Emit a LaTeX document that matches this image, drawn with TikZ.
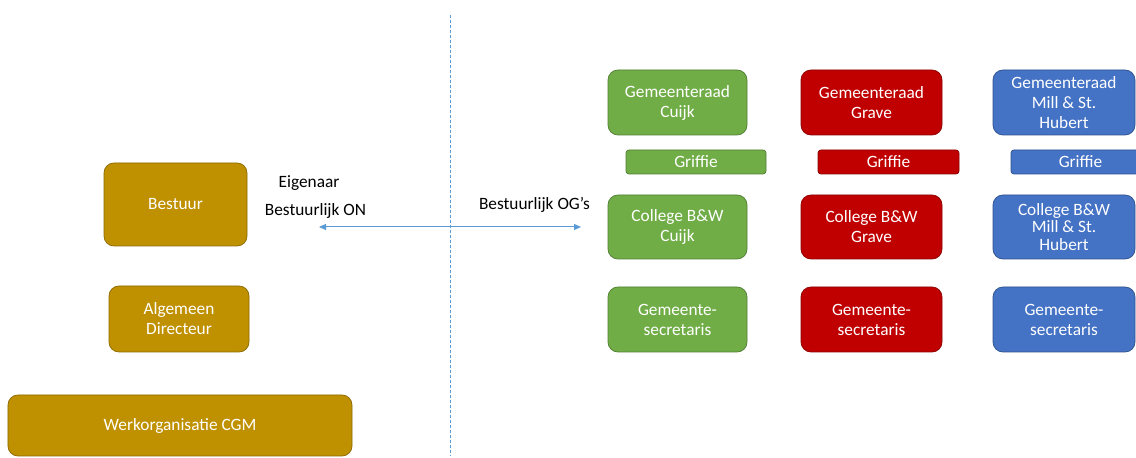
\documentclass[tikz,border=0pt]{standalone}
\usepackage{fontspec}
\setmainfont{Carlito}
\usetikzlibrary{arrows.meta}
\definecolor{gold}{HTML}{BF9000}
\definecolor{goldd}{HTML}{8C6A00}
\definecolor{grn}{HTML}{70AD47}
\definecolor{grnd}{HTML}{507E32}
\definecolor{rd}{HTML}{C00000}
\definecolor{rdd}{HTML}{8C0000}
\definecolor{bl}{HTML}{4472C4}
\definecolor{bld}{HTML}{2F528F}
\definecolor{conn}{HTML}{5B9BD5}
\tikzset{
  box/.style={rounded corners=10bp, line width=0.75bp, text=white, align=center, inner sep=0pt,
    font=\fontsize{17.3bp}{20bp}\selectfont},
  gbox/.style={box, fill=gold, draw=goldd},
  grbox/.style={box, fill=grn, draw=grnd},
  rbox/.style={box, fill=rd, draw=rdd},
  bbox/.style={box, fill=bl, draw=bld},
  smallr/.style={rounded corners=3bp},
  lbl/.style={text=black, inner sep=0pt, font=\fontsize{17.3bp}{20bp}\selectfont},
}
\begin{document}
\begin{tikzpicture}[x=1bp,y=-1bp]
\useasboundingbox (0,0) rectangle (1136,458);
\clip (0,0) rectangle (1136,458);
\fill[white] (0,0) rectangle (1136,458);
% divider
\coordinate (dtop) at (450,15);
\coordinate (dbot) at (450,456);
\draw[conn, line width=0.75bp, dash pattern=on 3bp off 2bp] (dtop) -- (dbot);
% left side
\node[gbox, minimum width=143bp, minimum height=83bp] (bestuur) at (175.5,204.5) {Bestuur};
\node[gbox, minimum width=140bp, minimum height=66bp] (ad) at (179,319) {Algemeen\\Directeur};
\node[gbox, minimum width=344bp, minimum height=61bp] (werk) at (180,425.5) {Werkorganisatie CGM};
% labels
\node[lbl] (eig) at (309,183) {Eigenaar};
\node[lbl] (bon) at (315.5,211) {Bestuurlijk ON};
\node[lbl] (bog) at (534.5,205) {Bestuurlijk OG’s};
% arrow
\coordinate (al) at (319,227);
\coordinate (ar) at (581,227);
\draw[conn, line width=1bp, {Triangle[length=7bp,width=6bp]}-{Triangle[length=7bp,width=6bp]}] (al) -- (ar);
% green column
\node[grbox, minimum width=139bp, minimum height=65bp] (g1) at (677.5,102.5) {Gemeenteraad\\Cuijk};
\node[grbox, smallr, minimum width=140bp, minimum height=24bp] (g2) at (696,162) {Griffie};
\node[grbox, minimum width=139bp, minimum height=64bp] (g3) at (677.5,227) {College B\&W\\Cuijk};
\node[grbox, minimum width=139bp, minimum height=65bp] (g4) at (677.5,319.5) {Gemeente-\\secretaris};
% red column
\node[rbox, minimum width=141bp, minimum height=65bp] (r1) at (871.5,102.5) {Gemeenteraad\\Grave};
\node[rbox, smallr, minimum width=141bp, minimum height=24bp] (r2) at (888.5,162) {Griffie};
\node[rbox, minimum width=141bp, minimum height=64bp] (r3) at (871.5,227) {College B\&W\\Grave};
\node[rbox, minimum width=141bp, minimum height=65bp] (r4) at (871.5,319.5) {Gemeente-\\secretaris};
% blue column
\node[bbox, minimum width=142bp, minimum height=65bp] (b1) at (1064,102.5) {Gemeenteraad\\Mill \& St.\\Hubert};
\node[bbox, smallr, minimum width=139bp, minimum height=24bp] (b2) at (1080.5,162) {Griffie};
\node[bbox, minimum width=142bp, minimum height=64bp, font=\fontsize{17.3bp}{17.5bp}\selectfont] (b3) at (1064,227) {College B\&W\\Mill \& St.\\Hubert};
\node[bbox, minimum width=142bp, minimum height=65bp] (b4) at (1064,319.5) {Gemeente-\\secretaris};
\end{tikzpicture}
\end{document}
